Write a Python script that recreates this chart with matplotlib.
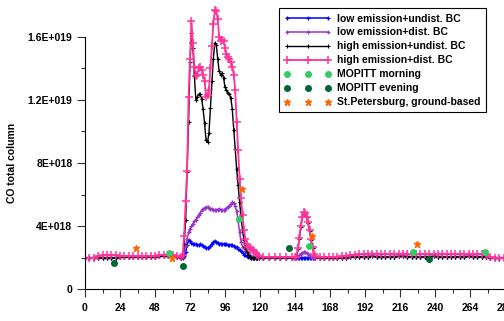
import numpy as np
import matplotlib
matplotlib.use("Agg")
import matplotlib.pyplot as plt

plt.rcParams["font.family"] = ["Liberation Sans", "DejaVu Sans"]
plt.rcParams["font.weight"] = "bold"

# sample times (hours from 00 GMT 02 Sep 2002)
hours = np.concatenate([
    np.arange(0, 67, 3),      # 23 samples
    np.arange(67, 120, 1),    # 53 samples
    np.arange(122, 143, 4),   # 6 samples
    np.arange(144, 159, 1),   # 15 samples
    np.arange(161, 288, 3),   # 43 samples
])

# CO total column, units of 1E+018
high_dist = [
    2.0, 2.0, 2.0, 2.1, 2.15, 2.15, 2.15, 2.15, 2.12, 2.1, 2.1, 2.1,
    2.08, 2.08, 2.08, 2.1, 2.12, 2.15, 2.18, 2.2, 2.18, 2.1, 2.05,
    2.15, 3.4, 5.6, 7.5, 12.2, 14.6, 17.0, 15.6, 14.1, 13.5,
    13.6, 14.0, 14.1, 13.9, 13.6, 13.2, 12.2, 12.3, 12.6, 14.0,
    15.4, 16.8, 17.7, 17.6, 17.1, 16.0, 15.7, 15.8, 15.7, 15.3,
    14.9, 14.7, 14.6, 14.4, 14.1, 13.6, 12.6, 10.6, 8.8, 7.0,
    5.8, 4.7, 3.75, 3.2, 2.85, 2.7, 2.6, 2.55, 2.5, 2.42,
    2.32, 2.2, 2.1,
    2.05, 2.05, 2.05, 2.05, 2.05, 2.05,
    2.05, 2.06, 2.6, 3.25, 4.0, 4.6, 4.9, 4.85, 4.6, 4.25, 3.75, 3.2,
    2.65, 2.25, 2.08,
    2.05, 2.05, 2.05, 2.05, 2.06, 2.08, 2.1, 2.15, 2.2, 2.22,
    2.24, 2.25, 2.26, 2.25, 2.24, 2.23, 2.24, 2.25, 2.26, 2.26, 2.25,
    2.24, 2.22, 2.22, 2.23, 2.24, 2.25, 2.25, 2.24, 2.23, 2.22, 2.22,
    2.23, 2.24, 2.25, 2.25, 2.24,
    2.22, 2.15, 2.05, 2.0, 2.0, 2.0,
]

high_undist = [
    1.97, 1.97, 1.98, 2.0, 2.0, 2.0, 2.0, 2.0, 2.02, 2.04, 2.05, 2.05,
    2.05, 2.05, 2.05, 2.05, 2.06, 2.08, 2.1, 2.1, 2.1, 2.05, 2.0,
    2.05, 2.9, 4.4, 7.4, 10.6, 14.4, 16.2, 15.3, 13.5, 12.0,
    12.2, 12.35, 12.35, 12.05, 11.4, 10.5, 9.45, 9.3, 9.9, 11.5,
    13.2, 14.6, 15.6, 15.5, 14.6, 13.8, 13.6, 13.7, 13.4, 12.8,
    12.6, 12.45, 12.35, 12.1, 11.4, 10.1, 8.9, 7.6, 6.6, 5.5,
    4.6, 3.75, 3.1, 2.7, 2.35, 2.15, 2.05, 2.0, 1.98, 1.98,
    2.0, 2.0, 2.0,
    2.0, 2.0, 2.0, 2.0, 2.0, 2.0,
    2.0, 2.05, 2.55, 3.2, 3.95, 4.55, 4.85, 4.8, 4.55, 4.2, 3.7, 3.15,
    2.6, 2.2, 2.05,
    2.0, 2.0, 2.0, 2.0, 2.0, 2.0, 2.0, 2.02, 2.04, 2.06,
    2.07, 2.07, 2.08, 2.07, 2.07, 2.06, 2.07, 2.07, 2.08, 2.08, 2.07,
    2.07, 2.06, 2.06, 2.07, 2.07, 2.08, 2.07, 2.07, 2.06, 2.06, 2.06,
    2.07, 2.07, 2.08, 2.07, 2.07,
    2.06, 2.04, 2.0, 1.98, 1.98, 1.98,
]

low_dist = [
    1.97, 1.97, 1.98, 2.0, 2.0, 2.0, 2.0, 2.0, 2.02, 2.04, 2.05, 2.05,
    2.05, 2.05, 2.05, 2.05, 2.06, 2.08, 2.1, 2.1, 2.1, 2.05, 2.0,
    2.05, 2.4, 2.8, 3.2, 3.6, 3.85, 4.0, 4.15, 4.3, 4.4,
    4.55, 4.7, 4.85, 5.0, 5.1, 5.15, 5.2, 5.2, 5.15, 5.1,
    5.1, 5.05, 5.0, 5.0, 5.05, 5.1, 5.05, 5.0, 5.0, 5.05,
    5.15, 5.2, 5.3, 5.4, 5.5, 5.45, 5.25, 4.95, 4.3, 3.6,
    3.0, 2.7, 2.6, 2.45, 2.35, 2.28, 2.2, 2.12, 2.05, 2.0,
    2.0, 2.0, 2.0,
    2.0, 2.0, 2.0, 2.0, 2.0, 2.0,
    2.0, 2.0, 2.05, 2.15, 2.25, 2.32, 2.36, 2.35, 2.3, 2.22, 2.12, 2.05,
    2.0, 2.0, 2.0,
    2.0, 2.0, 2.0, 2.0, 2.0, 2.0, 2.0, 2.02, 2.04, 2.06,
    2.07, 2.07, 2.08, 2.07, 2.07, 2.06, 2.07, 2.07, 2.08, 2.08, 2.07,
    2.07, 2.06, 2.06, 2.07, 2.07, 2.08, 2.07, 2.07, 2.06, 2.06, 2.06,
    2.07, 2.07, 2.08, 2.07, 2.07,
    2.06, 2.04, 2.0, 1.98, 1.98, 1.98,
]

low_undist = [
    1.97, 1.97, 1.98, 2.0, 2.0, 2.0, 2.0, 2.0, 2.02, 2.04, 2.05, 2.05,
    2.05, 2.05, 2.05, 2.05, 2.06, 2.08, 2.1, 2.1, 2.1, 2.05, 2.0,
    2.0, 2.1, 2.35, 2.8, 3.1, 3.05, 2.95, 2.9, 2.85, 2.85,
    2.8, 2.8, 2.85, 2.8, 2.75, 2.7, 2.6, 2.6, 2.65, 2.75,
    2.9, 3.0, 3.05, 3.0, 2.95, 2.9, 2.9, 2.88, 2.87, 2.85,
    2.85, 2.82, 2.8, 2.8, 2.78, 2.75, 2.7, 2.65, 2.58, 2.5,
    2.4, 2.3, 2.2, 2.15, 2.1, 2.05, 2.02, 2.0, 1.98, 1.97,
    1.98, 2.0, 2.0,
    2.0, 2.0, 2.0, 2.0, 2.0, 2.0,
    2.0, 2.0, 2.0, 2.0, 2.0, 2.0, 2.0, 2.0, 2.0, 2.0, 2.0, 2.0,
    2.0, 2.0, 2.0,
    2.0, 2.0, 2.0, 2.0, 2.0, 2.0, 2.0, 2.02, 2.04, 2.06,
    2.07, 2.07, 2.08, 2.07, 2.07, 2.06, 2.07, 2.07, 2.08, 2.08, 2.07,
    2.07, 2.06, 2.06, 2.07, 2.07, 2.08, 2.07, 2.07, 2.06, 2.06, 2.06,
    2.07, 2.07, 2.08, 2.07, 2.07,
    2.06, 2.04, 2.0, 1.98, 1.98, 1.98,
]

# observations
morning_h = [57.6, 105.8, 153.9, 225.2, 274.0]
morning_v = [2.32, 4.43, 2.76, 2.34, 2.38]
evening_h = [19.9, 67.4, 139.9, 236.2]
evening_v = [1.67, 1.5, 2.64, 1.92]
spb_h = [35.0, 59.4, 107.4, 155.4, 227.4]
spb_v = [2.6, 2.0, 6.33, 3.4, 2.85]

x_ticks = list(range(0, 289, 24))
y_ticks = [0, 4e18, 8e18, 1.2e19, 1.6e19]
y_tick_labels = ["0", "4E+018", "8E+018", "1.2E+019", "1.6E+019"]

SCALE = 1e18

for name, s in [("high_dist", high_dist), ("high_undist", high_undist),
                ("low_dist", low_dist), ("low_undist", low_undist)]:
    assert len(s) == len(hours), (name, len(s), len(hours))


def main() -> None:
    fig = plt.figure(figsize=(5.04, 3.21), dpi=100)
    ax = fig.add_axes([85 / 504, 31.7 / 321, 420 / 504, 289.3 / 321])

    ax.plot(hours, np.array(low_undist) * SCALE, color="#0000ff", lw=1.1,
            marker="+", ms=3, mew=0.9, label="low emission+undist. BC")
    ax.plot(hours, np.array(low_dist) * SCALE, color="#9933cc", lw=1.1,
            marker="+", ms=3, mew=0.9, label="low emission+dist. BC")
    ax.plot(hours, np.array(high_undist) * SCALE, color="black", lw=1.0,
            marker="+", ms=3, mew=0.8, label="high emission+undist. BC")
    ax.plot(hours, np.array(high_dist) * SCALE, color="#ff3399", lw=1.3,
            marker="+", ms=5.5, mew=1.1, label="high emission+dist. BC")

    ax.plot(morning_h, np.array(morning_v) * SCALE, ls="none", marker="o",
            ms=4, color="#33cc66", label="MOPITT morning")
    ax.plot(evening_h, np.array(evening_v) * SCALE, ls="none", marker="o",
            ms=4, color="#006633", label="MOPITT evening")
    ax.plot(spb_h, np.array(spb_v) * SCALE, ls="none", marker="*",
            ms=5, color="#ff6600", label="St.Petersburg, ground-based")

    ax.set_xlim(0, 288)
    ax.set_ylim(0, 18.32e18)

    ax.spines["top"].set_visible(False)
    ax.spines["right"].set_visible(False)
    ax.spines["left"].set_bounds(0, 1.6e19)

    ax.set_xticks(x_ticks)
    ax.set_xticks(range(12, 289, 24), minor=True)
    ax.set_yticks(y_ticks)
    ax.set_yticklabels(y_tick_labels)
    ax.set_yticks([2e18, 6e18, 1e19, 1.4e19], minor=True)

    ax.tick_params(which="major", length=5.5, width=0.8, color="#333333",
                   labelsize=7.5, pad=3.5)
    ax.tick_params(axis="x", which="major", pad=4.5)
    ax.tick_params(which="minor", length=3.2, width=0.8, color="#333333")
    for lab in ax.get_xticklabels() + ax.get_yticklabels():
        lab.set_fontweight("bold")

    ax.set_ylabel("CO total column", fontsize=7.5, fontweight="bold")
    ax.yaxis.set_label_coords(-0.1626, 8e18 / 18.32e18)
    ax.set_xlabel("hours (from 00 GMT 02 Sep. 2002)", fontsize=7.5,
                  fontweight="bold")
    ax.xaxis.set_label_coords(0.486, -0.118)

    leg = ax.legend(loc="upper left", bbox_to_anchor=(279 / 504, 1 - 8.3 / 321),
                    bbox_transform=fig.transFigure, numpoints=3,
                    fontsize=7.5, handlelength=4.5, handletextpad=0.6,
                    labelspacing=0.38, borderpad=0.5, fancybox=False,
                    framealpha=1, edgecolor="black", borderaxespad=0)
    leg.get_frame().set_linewidth(0.8)
    for t in leg.get_texts():
        t.set_fontweight("bold")

    fig.savefig("out.png", dpi=100)


if __name__ == "__main__":
    main()
